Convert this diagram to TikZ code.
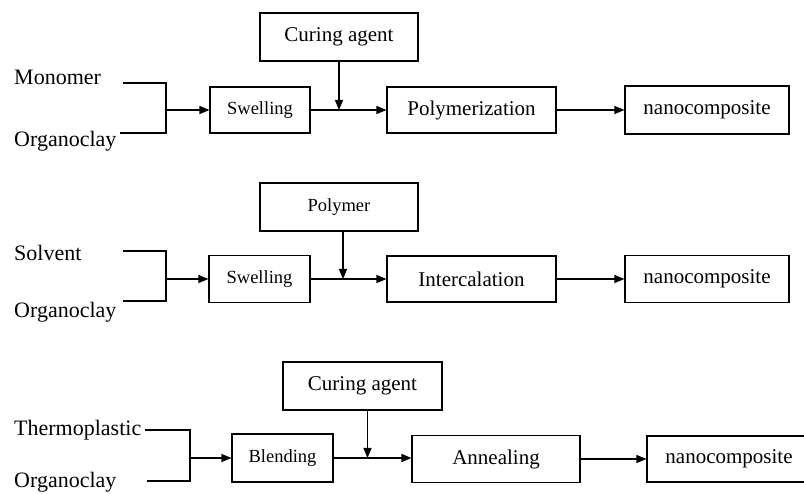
\documentclass[tikz,border=0pt]{standalone}
\usepackage{fontspec}
\setmainfont{Liberation Serif}
\usetikzlibrary{arrows.meta}
\tikzset{
  box/.style={draw, line width=1.1pt, rectangle, inner sep=0pt, anchor=center},
  lbl/.style={anchor=base west, inner sep=0pt, font=\fontsize{22}{24}\selectfont},
  big/.style={font=\fontsize{21}{24}\selectfont},
  small/.style={font=\fontsize{18.5}{22}\selectfont},
  conn/.style={line width=1.1pt},
  arr/.style={line width=1.1pt, -{Triangle[length=10pt,width=8pt]}}
}
\begin{document}
\begin{tikzpicture}[x=1pt,y=-1pt]
\clip (0,0) rectangle (804,494);
\fill[white] (0,0) rectangle (804,494);

% ---------- Row 1 ----------
\node[box,big,minimum width=158pt,minimum height=48pt] (cur1) at (339,37) {Curing agent};
\node[box,small,minimum width=100pt,minimum height=46pt] (sw1) at (260,110) {Swelling};
\node[box,big,minimum width=169pt,minimum height=46pt] (pol1) at (471.5,110) {Polymerization};
\node[box,big,minimum width=164pt,minimum height=48pt] (nano1) at (707,110) {nanocomposite};
\node[lbl] (mon1) at (14,85) {Monomer};
\node[lbl] (org1) at (14,147) {Organoclay};
\coordinate (m1s) at (123,83);
\coordinate (o1s) at (120,133);
\coordinate (j1) at (166,110);
\draw[conn] (m1s) -| (j1) |- (o1s);
\draw[arr] (j1) -- (sw1.west);
\draw[arr] (sw1.east) -- (pol1.west);
\draw[arr] (cur1.south) -- (cur1.south |- sw1.east);
\draw[arr] (pol1.east) -- (nano1.west);

% ---------- Row 2 ----------
\node[box,small,minimum width=158pt,minimum height=48pt] (pol2) at (339,207) {Polymer};
\node[box,small,minimum width=101pt,minimum height=47pt] (sw2) at (259.5,279) {Swelling};
\node[box,big,minimum width=169pt,minimum height=46pt] (int2) at (471.5,279) {Intercalation};
\node[box,big,minimum width=164pt,minimum height=47pt] (nano2) at (707,279) {nanocomposite};
\node[lbl] (sol2) at (14,261) {Solvent};
\node[lbl] (org2) at (14,318) {Organoclay};
\coordinate (s2s) at (123,251);
\coordinate (o2s) at (123,301);
\coordinate (j2) at (166,279);
\draw[conn] (s2s) -| (j2) |- (o2s);
\draw[arr] (j2) -- (sw2.west);
\draw[arr] (sw2.east) -- (int2.west);
\draw[arr] ([xshift=4pt]pol2.south) -- ([xshift=4pt]pol2.south |- sw2.east);
\draw[arr] (int2.east) -- (nano2.west);

% ---------- Row 3 ----------
\node[box,big,minimum width=159pt,minimum height=48pt] (cur3) at (362.5,386) {Curing agent};
\node[box,small,minimum width=101pt,minimum height=48pt] (bl3) at (282.5,458) {Blending};
\node[box,big,minimum width=168pt,minimum height=47pt] (ann3) at (496,459) {Annealing};
\node[box,big,minimum width=164pt,minimum height=46pt] (nano3) at (729,459) {nanocomposite};
\node[lbl] (th3) at (14,436) {Thermoplastic};
\node[lbl] (org3) at (14,488) {Organoclay};
\coordinate (t3s) at (145,430);
\coordinate (o3s) at (147,481);
\coordinate (j3) at (190,458);
\draw[conn] (t3s) -| (j3) |- (o3s);
\draw[arr] (j3) -- (bl3.west);
\draw[arr] (bl3.east) -- (bl3.east -| ann3.west);
\draw[arr] ([xshift=5pt]cur3.south) -- ([xshift=5pt]cur3.south |- bl3.east);
\draw[arr] (ann3.east) -- (nano3.west);
\end{tikzpicture}
\end{document}
